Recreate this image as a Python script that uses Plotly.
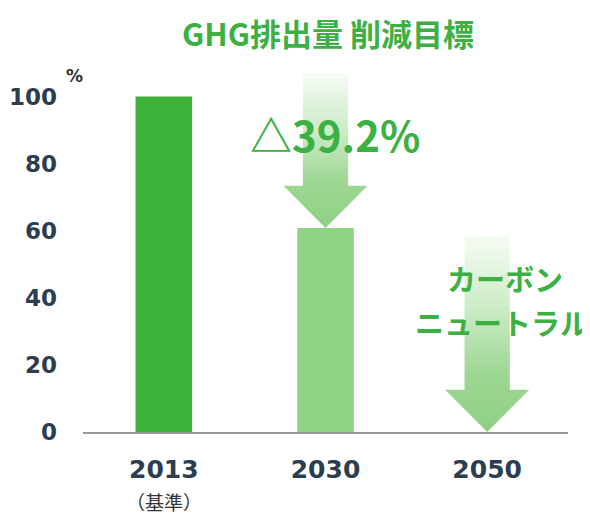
import plotly.graph_objects as go

# ---- data ----
YEARS = ["2013", "2030", "2050"]
VALUES = [100, 60.8, 0]
BAR_COLORS = ["#3db33a", "#8fd384", "#8fd384"]
Y_TICKS = [0, 20, 40, 60, 80, 100]
REDUCTION_LABEL = "△39.2%"
NEUTRAL_LINES = ["カーボン", "ニュートラル"]
TITLE = "GHG排出量 削減目標"
BASE_NOTE = "（基準）"
# arrow decorations: (category index, top value)
ARROWS = [(1, 107), (2, 58.5)]

GREEN = "#3cb043"
DARK = "#2b3d4f"

# page body has an 8px margin; the figure is sized to fit the 590x515 window
W, H = 582, 507
L, R, T, B = 75, 22, 55, 83
PH = H - T - B

fig = go.Figure()

xs = list(range(len(YEARS)))
fig.add_trace(go.Bar(x=xs, y=VALUES, marker_color=BAR_COLORS, width=0.35,
                     marker_line_width=0, showlegend=False, hoverinfo="skip"))

for idx, top in ARROWS:
    tip = VALUES[idx]
    head_len = 12.6
    sw, hw = 0.14, 0.26
    c = xs[idx]
    px = [c - sw, c + sw, c + sw, c + hw, c, c - hw, c - sw, c - sw]
    py = [top, top, tip + head_len, tip + head_len, tip, tip + head_len, tip + head_len, top]
    fig.add_trace(go.Scatter(
        x=px, y=py, mode="lines", fill="toself", line=dict(width=0),
        fillgradient=dict(type="vertical",
                          colorscale=[[0, "rgb(143,208,132)"],
                                      [0.3, "rgb(158,215,148)"],
                                      [0.6, "rgb(200,234,194)"],
                                      [1, "rgb(246,252,245)"]]),
        showlegend=False, hoverinfo="skip"))

fig.update_layout(
    width=W, height=H,
    margin=dict(l=L, r=R, t=T, b=B, autoexpand=False),
    paper_bgcolor="white", plot_bgcolor="white",
    font=dict(family="DejaVu Sans", color=DARK),
    xaxis=dict(range=[-0.5, 2.5], tickvals=xs, ticktext=[f"<b>{y}</b>" for y in YEARS],
               showgrid=False, zeroline=False, showline=True, linecolor="#9a9a9a",
               linewidth=2, ticks="", tickfont=dict(size=25, color=DARK),
               ticklabelstandoff=14, fixedrange=True, automargin=False),
    yaxis=dict(range=[0, 110], tickvals=Y_TICKS,
               ticktext=[f"<b>{t}</b>" for t in Y_TICKS],
               showgrid=False, zeroline=False, showline=False, ticks="",
               tickfont=dict(size=23, color=DARK), ticklabelstandoff=25,
               fixedrange=True, automargin=False),
)

fig.add_annotation(text=f"<b>{TITLE}</b>", xref="paper", yref="paper",
                   x=(328 - 83) / 485, y=(H - B) / PH, xanchor="center", yanchor="top",
                   showarrow=False,
                   font=dict(family="Noto Sans CJK JP", size=31, color=GREEN))
fig.add_annotation(text="<b>%</b>", xref="paper", yref="y", x=-9 / 485, y=106,
                   xanchor="center", yanchor="middle", showarrow=False,
                   font=dict(size=17, color="#333333"))
fig.add_annotation(text=BASE_NOTE, xref="x", yref="paper", x=0, y=-70 / PH,
                   xanchor="center", yanchor="middle", showarrow=False,
                   font=dict(family="Noto Sans CJK JP", size=19, color="#333333"))
fig.add_annotation(text=f"<b>{REDUCTION_LABEL}</b>", xref="x", yref="y", x=1.06, y=89,
                   xanchor="center", yanchor="middle", showarrow=False,
                   font=dict(family="Noto Sans CJK JP", size=42, color=GREEN))
for line, xv, yv in zip(NEUTRAL_LINES, [2.11, 2.09], [45.9, 32.8]):
    fig.add_annotation(text=f"<b>{line}</b>", xref="x", yref="y", x=xv, y=yv,
                       xanchor="center", yanchor="middle", showarrow=False,
                       font=dict(family="Noto Sans CJK JP", size=29, color=GREEN))

fig.write_html("out.html")
